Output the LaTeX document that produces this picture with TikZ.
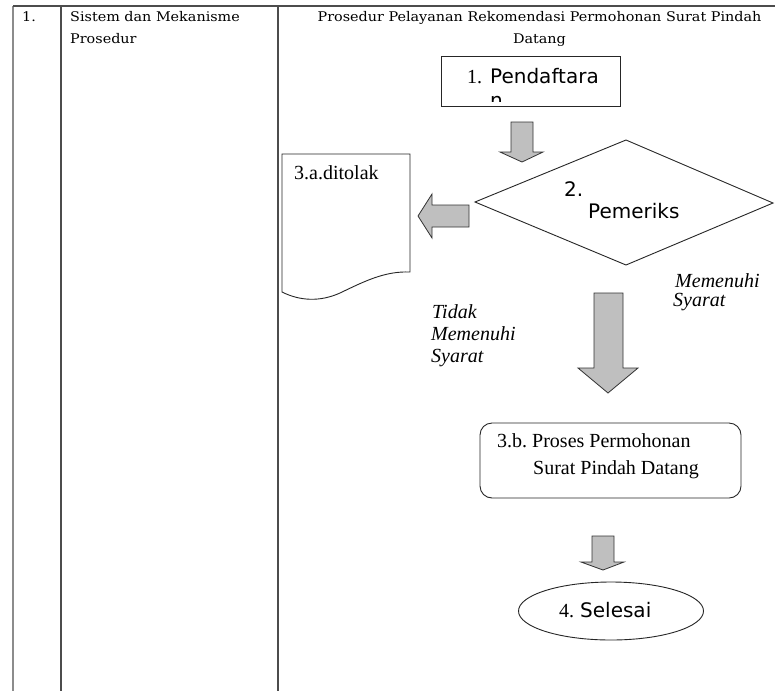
\documentclass[tikz,border=0pt]{standalone}
\usepackage{fontspec}
\setmainfont{Liberation Serif}
\newfontfamily\hdrfont[FakeStretch=1.08]{DejaVu Serif}
\newfontfamily\dvsans{DejaVu Sans}
\usetikzlibrary{shapes.geometric}
\frenchspacing
\begin{document}
\begin{tikzpicture}[x=1pt,y=-1pt,
  tline/.style={line width=1.1pt,draw=black!70},
  shapeline/.style={draw=black!85,line width=0.9pt},
  barrow/.style={draw=black!80,line width=0.8pt,fill=black!25,line join=miter},
  lbl/.style={inner sep=0pt,anchor=base west,font=\fontsize{20}{22}\selectfont},
  slbl/.style={inner sep=0pt,anchor=base west,font=\dvsans\fontsize{20}{22}\selectfont},
  ilbl/.style={inner sep=0pt,anchor=base west,font=\itshape\fontsize{20}{22}\selectfont},
  hdr/.style={inner sep=0pt,anchor=base west,font=\hdrfont\fontsize{13.3}{15}\selectfont}]
\useasboundingbox (0,0) rectangle (775,691);
\fill[white] (0,0) rectangle (775,691);
% table
\draw[tline,draw=black!45] (13,6) -- (13,691);
\draw[tline] (13,6) -- (775,6);
\draw[tline] (61,6) -- (61,691);
\draw[tline] (278,6) -- (278,691);
\node[hdr] (no) at (22,21) {1.};
\node[hdr] (sys1) at (70,21) {Sistem dan Mekanisme};
\node[hdr] (sys2) at (70,43) {Prosedur};
\node[hdr,anchor=base] (title1) at (539.5,21) {Prosedur Pelayanan Rekomendasi Permohonan Surat Pindah};
\node[hdr,anchor=base] (title2) at (539.5,43) {Datang};
% box 1
\node[shapeline,draw,minimum width=179pt,minimum height=50pt,inner sep=0pt] (daftar) at (530.5,81) {};
\begin{scope}
  \clip (442,57) rectangle (619,101);
  \node[lbl] (d1) at (467,83) {1.};
  \node[slbl] (d2) at (490,83) {Pendaftara};
  \node[slbl] (d3) at (490,107) {n};
\end{scope}
% arrow 1
\draw[barrow] (511,122) -- (533,122) -- (533,152) -- (543,152) -- (522,162) -- (500,152) -- (511,152) -- cycle;
% diamond
\draw[shapeline] (475,202) coordinate (dl) -- (626,140) coordinate (dt) -- (773,203) coordinate (dr) -- (626,265) coordinate (db) -- cycle;
\node[slbl] (p1) at (564,196) {2.};
\node[slbl] (p2) at (588,218) {Pemeriks};
% left arrow
\draw[barrow] (469,205) -- (469,227) -- (432,227) -- (432,238) -- (418,216) -- (432,194) -- (432,205) -- cycle;
% document
\draw[shapeline] (282,154) -- (410,154) -- (410,272) .. controls (385,271) and (365,281) .. (340,293) .. controls (320,302) and (300,301) .. (282,292) -- cycle;
\node[lbl] (tolak) at (294,179) {3.a.ditolak};
% labels
\node[ilbl] (m1) at (675,287) {Memenuhi};
\node[ilbl] (m2) at (673,306) {Syarat};
\node[ilbl] (t1) at (432,318) {Tidak};
\node[ilbl] (t2) at (431,340) {Memenuhi};
\node[ilbl] (t3) at (431,362) {Syarat};
% big arrow
\draw[barrow] (594,293) -- (623,293) -- (623,368) -- (638,368) -- (608,393) -- (578,368) -- (594,368) -- cycle;
% box 3b
\node[shapeline,draw,rounded corners=12pt,minimum width=261pt,minimum height=75pt,inner sep=0pt] (proses) at (610.5,460.5) {};
\node[lbl] (pr1) at (497,447) {3.b. Proses Permohonan};
\node[lbl] (pr2) at (533,474) {Surat Pindah Datang};
% arrow 3
\draw[barrow] (592,536) -- (614,536) -- (614,562) -- (624,562) -- (603,570) -- (581,562) -- (592,562) -- cycle;
% ellipse
\node[shapeline,draw,ellipse,minimum width=185pt,minimum height=58pt,inner sep=0pt] (selesai) at (611,611) {};
\node[lbl] (s1) at (559,617) {4.};
\node[slbl] (s2) at (580,617) {Selesai};
\end{tikzpicture}
\end{document}
